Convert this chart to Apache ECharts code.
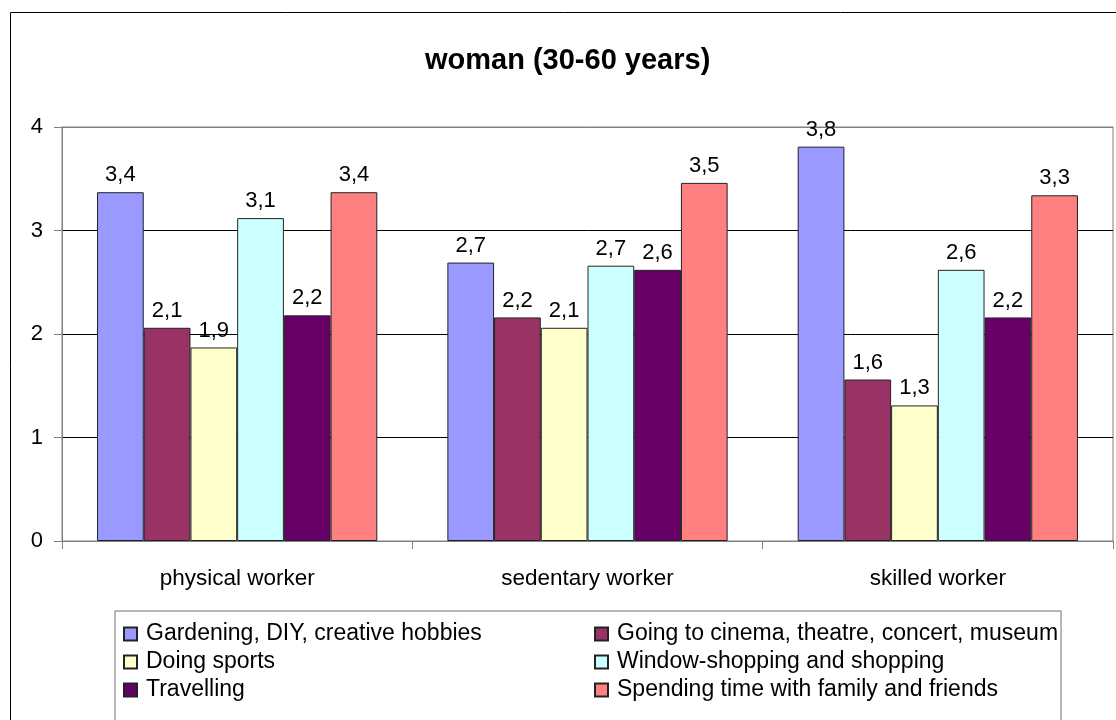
<!DOCTYPE html>
<html>
<head>
<meta charset="utf-8">
<title>woman (30-60 years)</title>
<script src="https://cdn.jsdelivr.net/npm/echarts@6/dist/echarts.min.js"></script>
<style>
  html, body { margin: 0; padding: 0; background: #fff; }
  #chart { width: 1116px; height: 720px; }
</style>
</head>
<body>
<div id="chart"></div>
<script>
// Leisure activity scores by type of work
const categories = ['physical worker', 'sedentary worker', 'skilled worker'];

const seriesNames = [
  'Gardening, DIY, creative hobbies',
  'Going to cinema, theatre, concert, museum',
  'Doing sports',
  'Window-shopping and shopping',
  'Travelling',
  'Spending time with family and friends'
];

const gardening  = [3.37, 2.69, 3.81];
const cinema     = [2.06, 2.16, 1.56];
const sports     = [1.87, 2.06, 1.31];
const shopping   = [3.12, 2.66, 2.62];
const travelling = [2.18, 2.62, 2.16];
const family     = [3.37, 3.46, 3.34];

const yTicks = [0, 1, 2, 3, 4];

const seriesValues = [gardening, cinema, sports, shopping, travelling, family];
const seriesColors = ['#9999FF', '#993366', '#FFFFCC', '#CCFFFF', '#660066', '#FF8080'];

const FONT = 'Liberation Sans, Arial, sans-serif';

const chart = echarts.init(document.getElementById('chart'), null, { renderer: 'canvas' });

const series = seriesNames.map((name, i) => ({
  name: name,
  type: 'bar',
  data: seriesValues[i],
  barGap: '0%',
  barCategoryGap: '20%',
  itemStyle: { color: seriesColors[i], borderColor: '#222', borderWidth: 1 },
  label: {
    show: true,
    position: 'top',
    distance: 6,
    color: '#000',
    fontFamily: FONT,
    fontSize: 22,
    formatter: p => p.value.toFixed(1).replace('.', ',')
  },
  emphasis: { disabled: true }
}));

// two-column legend: fixed text widths keep the columns aligned
const legendData = seriesNames.map((name, i) => ({
  name: name,
  textStyle: { width: i % 2 === 0 ? 448 : 441 }
}));

chart.setOption({
  animation: false,
  backgroundColor: '#fff',
  title: {
    text: 'woman (30-60 years)',
    left: 425,
    top: 46,
    padding: 0,
    textStyle: { fontFamily: FONT, fontSize: 29, fontWeight: 'bold', color: '#000' }
  },
  graphic: [{
    type: 'rect',
    shape: { x: 10.5, y: 12.5, width: 1120, height: 720 },
    style: { fill: 'none', stroke: '#000', lineWidth: 1 },
    silent: true,
    z: -1
  }],
  grid: {
    left: 62, right: 3, top: 127, bottom: 179,
    show: true,
    borderColor: '#808080',
    borderWidth: 1,
    containLabel: false
  },
  legend: {
    data: legendData,
    left: 115,
    top: 611,
    width: 950,
    orient: 'horizontal',
    itemWidth: 13,
    itemHeight: 13,
    itemGap: 0,
    icon: 'rect',
    padding: [9, 3, 30, 8],
    borderColor: '#707070',
    borderWidth: 1,
    selectedMode: false,
    textStyle: {
      fontFamily: FONT,
      fontSize: 23,
      color: '#000',
      lineHeight: 28,
      padding: [0, 0, 0, 4]
    }
  },
  xAxis: {
    type: 'category',
    data: categories,
    axisLine: { show: true, lineStyle: { color: '#808080', width: 1 } },
    axisTick: { show: true, length: 8, lineStyle: { color: '#808080' } },
    axisLabel: { color: '#000', fontFamily: FONT, fontSize: 22.5, margin: 26 },
    splitLine: { show: false }
  },
  yAxis: {
    type: 'value',
    min: yTicks[0],
    max: yTicks[yTicks.length - 1],
    interval: 1,
    axisLine: { show: true, lineStyle: { color: '#808080', width: 1 } },
    axisTick: { show: true, inside: false, length: 8, lineStyle: { color: '#808080' } },
    axisLabel: { color: '#000', fontFamily: FONT, fontSize: 22, margin: 19 },
    splitLine: {
      show: true,
      lineStyle: { color: ['#808080', '#000', '#000', '#000', '#808080'], width: 1 }
    }
  },
  series: series
});
</script>
</body>
</html>
